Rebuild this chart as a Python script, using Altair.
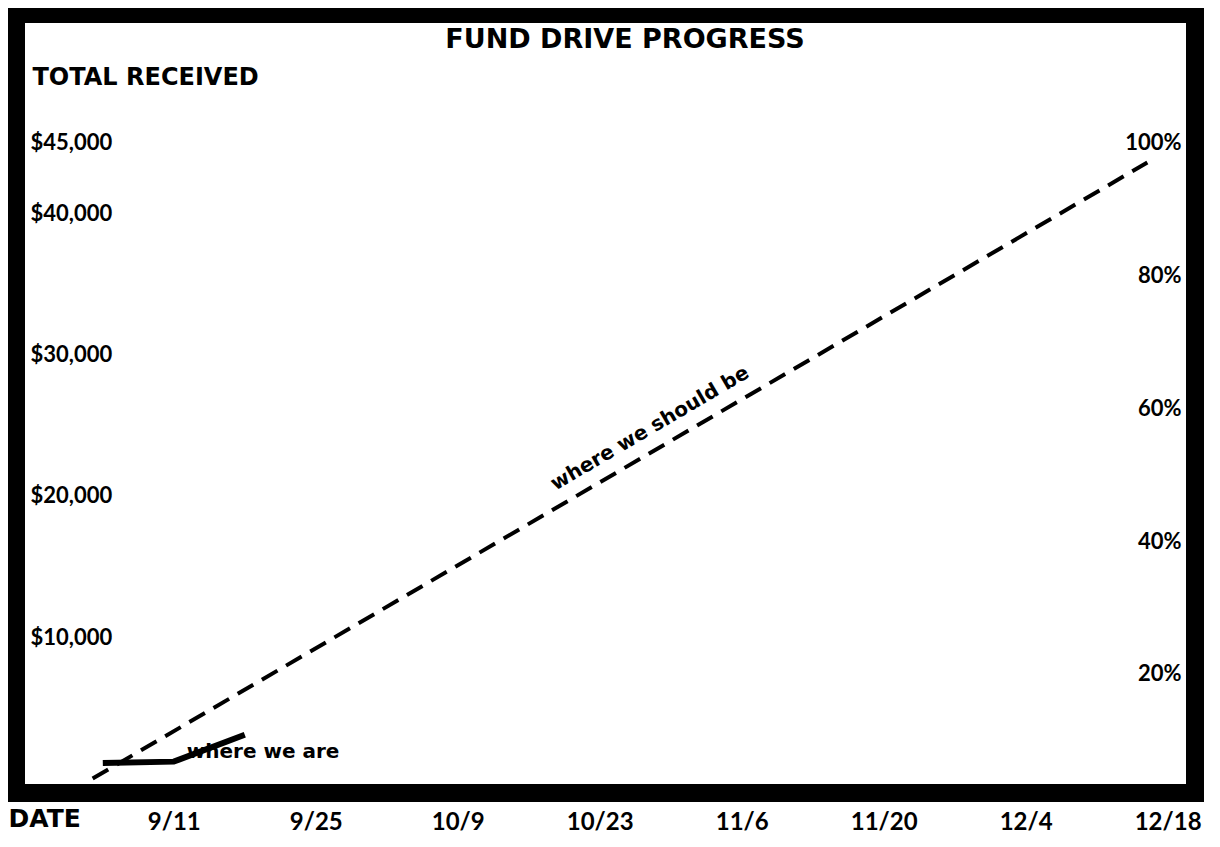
import altair as alt
import pandas as pd

YEAR = 1978

# goal line ("where we should be")
goal_dates = ["9/3", "12/16"]
goal_values = [0, 43600]

# actual totals ("where we are")
actual_dates = ["9/4", "9/11", "9/18"]
actual_values = [1100, 1200, 3100]

# axis tick labels
date_ticks = ["9/11", "9/25", "10/9", "10/23", "11/6", "11/20", "12/4", "12/18"]
dollar_ticks = [10000, 20000, 30000, 40000, 45000]
percent_ticks = [20, 40, 60, 80, 100]

# annotations
annot_text = ["where we should be", "where we are"]
annot_dates = ["10/29", "9/11"]
annot_values = [23500, 1200]


def iso(md):
    m, d = md.split("/")
    return f"{YEAR}-{int(m):02d}-{int(d):02d}"


def dt(md, hours=0, minutes=0):
    m, d = md.split("/")
    return alt.DateTime(year=YEAR, month=int(m), date=int(d),
                        hours=hours, minutes=minutes, utc=True)


x_enc = alt.X(
    "date:T",
    scale=alt.Scale(type="utc", domain=[dt("8/26", 10, 34), dt("12/20", 16, 48)], nice=False),
    axis=alt.Axis(
        values=[dt(t) for t in date_ticks], format="%-m/%-d",
        title="DATE", domain=False, ticks=False, grid=False,
        labelPadding=17, labelFont="Lato", labelFontSize=24, labelFontWeight="bold",
        labelColor="black", labelFlush=False, labelOverlap=False,
        titleFont="DejaVu Sans", titleFontSize=25, titleFontWeight="bold",
        titleColor="black", titleAlign="left", titleBaseline="middle",
        titleX=-8, titleY=25,
    ),
)

y_enc = alt.Y(
    "value:Q",
    scale=alt.Scale(domain=[-1020, 54110], nice=False, zero=False),
    axis=alt.Axis(
        orient="left", values=dollar_ticks, format="$,d",
        title="TOTAL RECEIVED", domain=False, ticks=False, grid=False,
        labelAlign="left", labelBaseline="middle", labelPadding=-14,
        labelFont="Lato", labelFontSize=22, labelFontWeight="bold", labelColor="black",
        labelOverlap=False, labelFlush=False,
        titleAngle=0, titleAlign="left", titleBaseline="middle",
        titleX=16, titleY=63,
        titleFont="DejaVu Sans", titleFontSize=24, titleFontWeight="bold", titleColor="black",
    ),
)

goal_df = pd.DataFrame({"date": [iso(d) for d in goal_dates], "value": goal_values})
actual_df = pd.DataFrame({"date": [iso(d) for d in actual_dates], "value": actual_values})

dashed = alt.Chart(goal_df).mark_line(
    color="black", strokeWidth=4, strokeDash=[18, 10]
).encode(x=x_enc, y=y_enc)

solid = alt.Chart(actual_df).mark_line(
    color="black", strokeWidth=6, strokeCap="butt"
).encode(x=x_enc, y=y_enc)

should_df = pd.DataFrame({"date": [iso(annot_dates[0])], "value": [annot_values[0]],
                          "label": [annot_text[0]]})
are_df = pd.DataFrame({"date": [iso(annot_dates[1])], "value": [annot_values[1]],
                       "label": [annot_text[1]]})

should = alt.Chart(should_df).mark_text(
    font="DejaVu Sans", fontSize=20, fontWeight="bold", color="black",
    angle=329.6, align="center", baseline="alphabetic", dy=-15,
).encode(x=x_enc, y=y_enc, text="label:N")

are = alt.Chart(are_df).mark_text(
    font="DejaVu Sans", fontSize=20, fontWeight="bold", color="black",
    align="left", baseline="alphabetic", dx=13, dy=-4,
).encode(x=x_enc, y=y_enc, text="label:N")

pct = alt.Chart(pd.DataFrame({"pct": percent_ticks})).mark_point(opacity=0).encode(
    y=alt.Y(
        "pct:Q",
        scale=alt.Scale(domain=[2.05, 119.37], nice=False, zero=False),
        axis=alt.Axis(
            orient="right", values=percent_ticks, labelExpr="datum.value + '%'",
            title=None, domain=False, ticks=False, grid=False,
            labelAlign="right", labelBaseline="middle", labelPadding=-14,
            labelFont="Lato", labelFontSize=22, labelFontWeight="bold", labelColor="black",
            labelOverlap=False, labelFlush=False,
        ),
    )
)

main = alt.layer(dashed, solid, should, are)

chart = alt.layer(main, pct).resolve_scale(y="independent").properties(
    width=1179,
    height=779,
    padding={"left": 8, "top": 6, "right": 12, "bottom": 42},
    autosize=alt.AutoSizeParams(type="none"),
    background="white",
    title=alt.TitleParams(
        text="FUND DRIVE PROGRESS", font="DejaVu Sans", fontSize=27, fontWeight="bold",
        color="black", anchor="middle", baseline="middle", orient="top",
        offset=0, dx=19.5, dy=53,
    ),
).configure_view(stroke="black", strokeWidth=18)

chart.save("out.html", embed_options={"renderer": "svg", "actions": False})
